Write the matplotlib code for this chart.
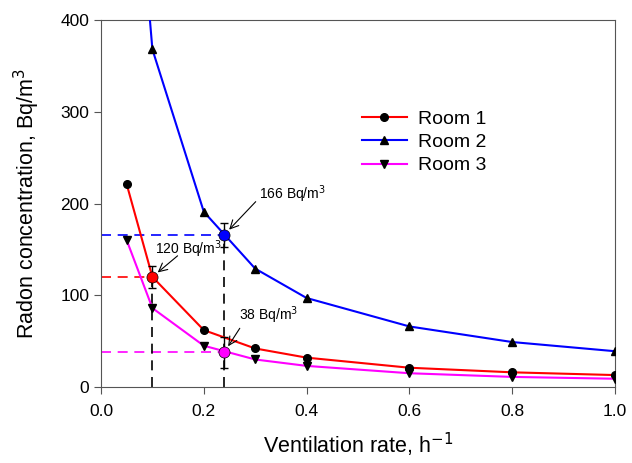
import numpy as np
import matplotlib.pyplot as plt

plt.rcParams['font.family'] = ['Liberation Sans', 'DejaVu Sans']

# ventilation rates (1/h)
rate = [0.05, 0.1, 0.2, 0.3, 0.4, 0.6, 0.8, 1.0]

# radon concentration per room (Bq/m3)
room1 = [221, 120, 62, 42, 32, 21, 16, 13]
room2 = [700, 368, 191, 129, 97, 66, 49, 39]
room3 = [160, 86, 45, 30, 23, 15, 11, 9]

# highlighted points with error bars
hl_x = [0.1, 0.24, 0.24]
hl_y = [120, 166, 38]
hl_err = [12, 13, 17]
hl_col = ['red', 'blue', 'magenta']
hl_text = ['120 Bq/m$^3$', '166 Bq/m$^3$', '38 Bq/m$^3$']
text_pos = [(0.170, 150), (0.372, 210), (0.327, 78)]
arrow_start = [(0.149, 143), (0.301, 202), (0.270, 64)]

fig = plt.figure(figsize=(6.32, 4.63), dpi=100)
ax = fig.add_axes([101/632, 1 - 387/463, 514/632, 367/463])

ax.plot(rate, room1, color='red', lw=1.5, marker='o', mfc='black', mec='black', ms=5.5, label='Room 1', zorder=3)
ax.plot(rate, room2, color='blue', lw=1.5, marker='^', mfc='black', mec='black', ms=5.5, label='Room 2', zorder=3)
ax.plot(rate, room3, color='magenta', lw=1.5, marker='v', mfc='black', mec='black', ms=5.5, label='Room 3', zorder=3)

# dashed guide lines to the axes
for x, y, c in zip(hl_x, hl_y, hl_col):
    ax.plot([0, x], [y, y], color=c, ls=(0, (6, 4)), lw=1.2, zorder=2)
ax.plot([0.1, 0.1], [0, 120], color='black', ls=(0, (6, 4)), lw=1.2, zorder=2)
ax.plot([0.24, 0.24], [0, 166], color='black', ls=(0, (6, 4)), lw=1.2, zorder=2)

for x, y, e, c, t, p, a in zip(hl_x, hl_y, hl_err, hl_col, hl_text, text_pos, arrow_start):
    ax.errorbar(x, y, yerr=e, fmt='none', ecolor='black', elinewidth=1, capsize=3, zorder=4)
    ax.plot(x, y, 'o', color=c, mec='black', mew=0.5, ms=8, zorder=5)
    ax.text(p[0], p[1], t, fontsize=10, ha='center', va='center')
    ax.annotate('', xy=(x, y), xytext=a,
                arrowprops=dict(arrowstyle='->,head_length=0.6,head_width=0.3', color='black',
                                lw=0.8, shrinkA=0, shrinkB=5))

ax.set_xlim(0, 1.0)
ax.set_ylim(0, 400)
ax.set_xticks(np.arange(0, 1.01, 0.2))
ax.set_yticks([0, 100, 200, 300, 400])
ax.xaxis.set_major_formatter(plt.FormatStrFormatter('%.1f'))
ax.tick_params(direction='out', labelsize=12.5, length=5, color='#555555')
ax.tick_params(axis='x', pad=7)
for s in ax.spines.values():
    s.set_color('#555555')

ax.set_xlabel('Ventilation rate, h$^{-1}$', fontsize=15.5, labelpad=9)
ax.set_ylabel('Radon concentration, Bq/m$^3$', fontsize=15.5, labelpad=13)

ax.legend(loc='upper left', bbox_to_anchor=(0.508, 0.755), frameon=False, fontsize=14,
          handlelength=2.3, handletextpad=0.55, labelspacing=0.3, borderpad=0, borderaxespad=0)

fig.savefig('out.png', dpi=100)
